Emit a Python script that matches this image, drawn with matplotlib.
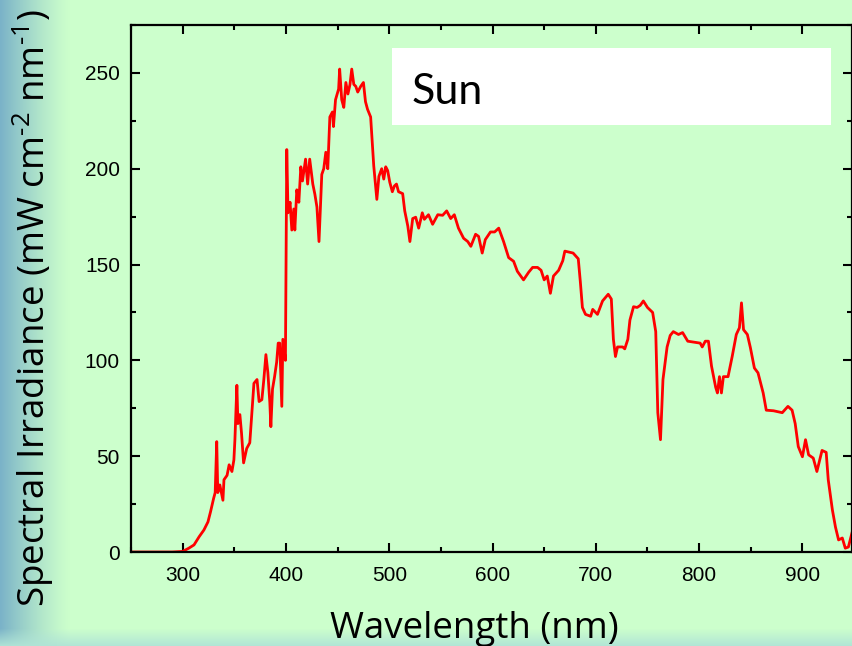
import numpy as np
import matplotlib
matplotlib.use("Agg")
import matplotlib.pyplot as plt
from matplotlib.ticker import MultipleLocator

plt.rcParams["mathtext.fontset"] = "custom"
plt.rcParams["mathtext.rm"] = "Open Sans"
plt.rcParams["mathtext.it"] = "Open Sans:italic"
plt.rcParams["mathtext.bf"] = "Open Sans:bold"

# ---- data ----
wavelength = [250, 290, 300, 306, 311, 316, 320.6, 324.5, 327, 330, 331.5, 333, 334, 336, 339, 340, 343, 345,
              347.7, 349.6, 350.6, 352.5, 353.5, 355.4, 357, 359, 362, 365, 367, 369, 372, 374, 376.7, 378.6,
              380.6, 382.5, 384.4, 385.4, 387, 389, 391, 392.5, 394, 396, 397, 399.5, 400.8, 402, 404, 405.7,
              407.6, 408.6, 410.5, 412.5, 414.4, 416, 419, 421, 423, 426, 428, 430, 432, 434.7, 436.6, 438.6,
              440.5, 442.5, 445, 446, 448, 451, 452, 454, 456, 458, 460, 462, 463.7, 465.7, 467.6, 469.5, 472.4,
              475, 477, 479, 482, 485, 488, 490, 492.7, 494.7, 496.6, 498.5, 500.5, 503, 505, 507, 509, 513,
              515, 518, 520, 522.7, 525.6, 528.5, 532, 534, 538, 542, 547, 551.7, 555.6, 559.5, 563, 567, 572,
              576, 579, 583.6, 586.5, 590, 593, 598, 602, 606, 610.7, 615.6, 620.4, 624, 630, 635, 638.8, 643.6,
              647, 650, 653, 656, 659, 664, 668, 670, 678, 683, 685, 687, 690, 695, 697, 701.6, 706.5, 712, 715,
              717, 719, 721, 726, 728, 731, 733, 736.5, 740, 743, 746, 750, 755, 758, 760, 762.6, 765, 769, 772,
              775, 780, 784, 789, 801, 803, 806, 809, 812, 816, 817.7, 819.7, 821.6, 823.5, 828, 832, 836, 839,
              841, 843, 846.7, 849.6, 853.5, 857, 862, 865, 872, 880.5, 886, 890, 893, 896, 900, 903, 906, 910.5,
              914, 919, 923, 925, 929, 932, 935, 938.6, 941.5, 944.5, 948]
irradiance = [0, 0, 0.3, 2, 3.7, 8, 11.5, 15.7, 21, 28, 31, 57.6, 31, 35, 27, 37.7, 40, 45.5,
              42, 48, 58.6, 87, 67, 71.7, 62, 46.5, 54, 57, 72.7, 88, 90, 78.5, 79.5, 90,
              103, 93.6, 78, 65.4, 85, 91.5, 99, 109, 109, 76, 111, 100, 210, 177, 182.5, 168,
              179, 168, 189, 182.5, 201, 193.6, 205, 192, 205, 192, 186.7, 180, 162, 197, 200, 208.6,
              200, 227, 229.6, 222, 236, 241.6, 252, 236, 232, 245, 239, 244, 252, 244, 243, 240, 243,
              245, 235, 231, 227, 201.5, 184, 196, 200, 194.6, 201, 199, 193, 188, 191, 192, 188, 187,
              178, 170, 162, 174, 174.7, 169, 177, 173.6, 176, 171, 176, 175.7, 178, 174, 176, 169, 163.7,
              162, 159.5, 165.8, 164.7, 156, 163, 167, 167, 169, 162, 153.6, 151.7, 146.5, 142, 146, 148.5, 148.5,
              147, 142, 144, 135, 144, 147, 152, 157, 156, 153, 141, 127.6, 124, 123, 126.6, 124, 131, 134.5, 132,
              111, 102, 107, 107, 106, 111, 121, 128, 127.6, 128.7, 131, 127.6, 125, 115, 72.7, 58.6, 90, 107, 113,
              115, 113.5, 114.5, 110, 109, 107, 110, 110, 97, 86, 83, 91.5, 83, 91.5, 91.5, 102, 113.5, 117,
              130, 116, 113.5, 106.7, 96, 93.5, 83, 74, 73.7, 72.7, 76, 74, 67, 55, 49.7, 58.6, 50.7, 49,
              42, 53, 52, 37.7, 22, 13, 6.3, 7.3, 2, 2.6, 10]

x_ticks = [300, 400, 500, 600, 700, 800, 900]
y_ticks = [0, 50, 100, 150, 200, 250]
x_label = "Wavelength (nm)"
y_label = "Spectral Irradiance (mW cm$^{\\text{-2}}$ nm$^{\\text{-1}}$)"
box_text = "Sun"

W, H = 852, 646
fig = plt.figure(figsize=(W / 100, H / 100), dpi=100)

# background with soft edge gradients
bg = fig.add_axes([0, 0, 1, 1], zorder=-10)
yy, xx = np.mgrid[0:H, 0:W]
base = np.array([204, 255, 204], float) / 255
left_c = np.array([122, 178, 200], float) / 255
bot_c = np.array([176, 228, 214], float) / 255
img = np.ones((H, W, 3)) * base
t = np.clip(1 - xx / 70.0, 0, 1) ** 1.3
img = img * (1 - t[..., None]) + left_c * t[..., None]
s = np.clip((yy - 628) / 18.0, 0, 1)
img = img * (1 - s[..., None]) + bot_c * s[..., None]
bg.imshow(img, aspect="auto", extent=[0, 1, 0, 1], origin="upper")
bg.axis("off")

ax = fig.add_axes([131 / W, 1 - 552 / H, (W - 131) / W, (552 - 25) / H])
ax.set_facecolor("none")
ax.plot(wavelength, irradiance, color="#ff0000", lw=2.0, solid_joinstyle="round")
ax.set_xlim(250, 948)
ax.set_ylim(0, 275)
ax.set_xticks(x_ticks)
ax.set_yticks(y_ticks)
ax.xaxis.set_minor_locator(MultipleLocator(50))
ax.yaxis.set_minor_locator(MultipleLocator(25))
ax.tick_params(which="both", direction="in", top=True, right=True, width=1.5, color="black")
ax.tick_params(which="major", length=6.5)
ax.tick_params(which="minor", length=3.5)
ax.tick_params(axis="x", which="major", pad=10, labelsize=15)
ax.tick_params(axis="y", which="major", pad=8, labelsize=15)
for lab in ax.get_xticklabels() + ax.get_yticklabels():
    lab.set_fontfamily("Liberation Sans")
for sp in ax.spines.values():
    sp.set_linewidth(1.6)

# "Sun" white box
ax.add_patch(plt.Rectangle(((392 - 131) / (W - 131), (552 - 125) / (552 - 25)),
                           (831 - 392) / (W - 131), (125 - 48) / (552 - 25),
                           transform=ax.transAxes, facecolor="white", edgecolor="none", zorder=3))
fig.text(412 / W, 1 - 104 / H, box_text, fontsize=31, family="Lato", ha="left", va="baseline", zorder=5)

fig.text(474 / W, 1 - 638 / H, x_label, fontsize=26.5, family="Open Sans", ha="center", va="baseline")
fig.text(33 / W, 1 - 308 / H, y_label, fontsize=26.5, family="Open Sans", ha="center", va="center", rotation=90)

fig.savefig("out.png", dpi=100)
